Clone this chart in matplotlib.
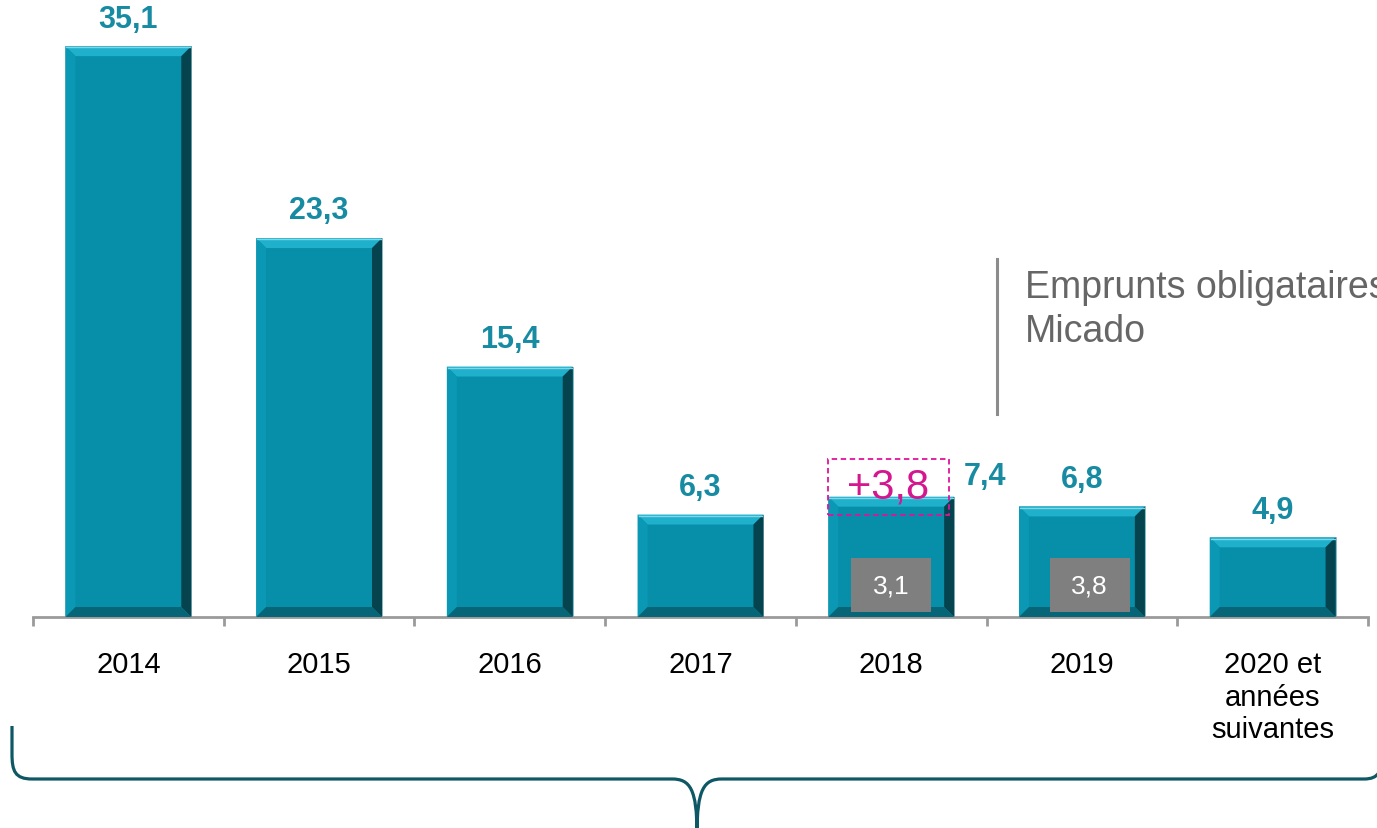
import numpy as np
import matplotlib
matplotlib.use("Agg")
import matplotlib.pyplot as plt
from matplotlib.patches import Polygon, Rectangle, PathPatch
from matplotlib.path import Path

plt.rcParams['font.family'] = ['Liberation Sans', 'DejaVu Sans']

# Data
categories = ["2014", "2015", "2016", "2017", "2018", "2019", "2020 et\nannées\nsuivantes"]
values = [35.1, 23.3, 15.4, 6.3, 7.4, 6.8, 4.9]
labels = ["35,1", "23,3", "15,4", "6,3", "7,4", "6,8", "4,9"]
micado_idx = [4, 5]
micado_labels = ["3,1", "3,8"]
extra_label = "+3,8"
note_text = "Emprunts obligataires\nMicado"

W, H = 1377, 829
fig = plt.figure(figsize=(W / 100, H / 100), dpi=100)
ax = fig.add_axes([33 / W, (H - 618) / H, 1335 / W, 618 / H])
ax.set_xlim(-0.5, 6.5)
ax.set_ylim(0, 38)

face = "#078ea9"
bar_w = 0.66
x = np.arange(len(values))
ax.bar(x, values, width=bar_w, color=face, edgecolor="#8fb8c0", linewidth=0.6, zorder=2)

# bevel effect
px_x = 7.0 / 1335
px_y = 38.0 / 618
dx, dy = 10 * px_x, 10 * px_y
for xi, h in zip(x, values):
    x0, x1 = xi - bar_w / 2, xi + bar_w / 2
    ax.add_patch(Polygon([(x0, h), (x1, h), (x1 - dx, h - dy), (x0 + dx, h - dy)],
                         closed=True, color="#1fb0cc", lw=0, zorder=3))
    ax.add_patch(Polygon([(x0, 0), (x0, h), (x0 + dx, h - dy), (x0 + dx, dy)],
                         closed=True, color="#0a98b4", lw=0, zorder=3))
    ax.add_patch(Polygon([(x1, 0), (x1, h), (x1 - dx, h - dy), (x1 - dx, dy)],
                         closed=True, color="#05434f", lw=0, zorder=3))
    ax.add_patch(Polygon([(x0, 0), (x1, 0), (x1 - dx, dy), (x0 + dx, dy)],
                         closed=True, color="#066678", lw=0, zorder=3))
    ax.plot([x0 + 0.005, x1 - 0.005], [h - 0.08, h - 0.08], color="#7fd6e6", lw=1, zorder=4)

# value labels
for i, (v, t) in enumerate(zip(values, labels)):
    if i == 4:
        ax.text(i + 0.49, v + 1.3, t, ha="center", va="center", fontsize=22,
                fontweight="bold", color="#168ba2", zorder=5)
    else:
        ax.text(i, v + 1.7, t, ha="center", va="center", fontsize=22,
                fontweight="bold", color="#168ba2", zorder=5)

# micado grey boxes
for i, t in zip(micado_idx, micado_labels):
    cx = i if i == 4 else i + 0.04
    ax.add_patch(Rectangle((cx - 0.21, 0.3), 0.42, 3.3, color="#7f7f7f", lw=0, zorder=5))
    ax.text(cx, 1.95, t, ha="center", va="center", fontsize=19, color="white", zorder=6)

# dashed box with +3,8
ax.add_patch(Rectangle((4 - bar_w / 2, 6.3), 0.635, 3.4, fill=False, edgecolor="#e0139a",
                       linestyle=(0, (3, 2)), lw=1.3, zorder=6))
ax.text(3.985, 8.05, extra_label, ha="center", va="center", fontsize=30, color="#d4168f", zorder=7)

# note (runs off the right edge, as in the original slide)
ax.plot([4.555, 4.555], [12.5, 22.0], color="#8c8c8c", lw=2.2, clip_on=False)
ax.text(4.70, 21.4, note_text, ha="left", va="top", fontsize=27, color="#666666",
        linespacing=1.28, clip_on=False)

# axes styling
for s in ["top", "right", "left"]:
    ax.spines[s].set_visible(False)
ax.spines["bottom"].set_color("#9a9a9a")
ax.spines["bottom"].set_linewidth(2)
ax.set_yticks([])
ax.set_xticks(x)
ax.set_xticklabels(categories, fontsize=21, color="black", linespacing=1.2)
ax.tick_params(axis="x", which="major", length=0, pad=24)
ax.set_xticks(np.arange(-0.5, 7, 1), minor=True)
ax.tick_params(axis="x", which="minor", length=6.5, width=2, color="#9a9a9a", direction="out")

# curly bracket (pixel coordinates converted to figure fraction)
def P(px, py):
    return (px / W, 1 - py / H)

verts = [P(12, 727), P(12, 755), P(12, 772), P(15, 780), P(32, 780),
         P(672, 780), P(690, 780), P(697, 790), P(697, 835),
         P(697, 790), P(704, 780), P(722, 780), P(1364, 780),
         P(1379, 780), P(1382, 772), P(1382, 755), P(1382, 727)]
codes = [Path.MOVETO, Path.LINETO, Path.CURVE4, Path.CURVE4, Path.CURVE4,
         Path.LINETO, Path.CURVE4, Path.CURVE4, Path.CURVE4,
         Path.CURVE4, Path.CURVE4, Path.CURVE4, Path.LINETO,
         Path.CURVE4, Path.CURVE4, Path.CURVE4, Path.LINETO]
brace = PathPatch(Path(verts, codes), transform=fig.transFigure, fill=False,
                  edgecolor="#0e5866", lw=2.3)
fig.patches.append(brace)

fig.savefig("out.png", dpi=100)
